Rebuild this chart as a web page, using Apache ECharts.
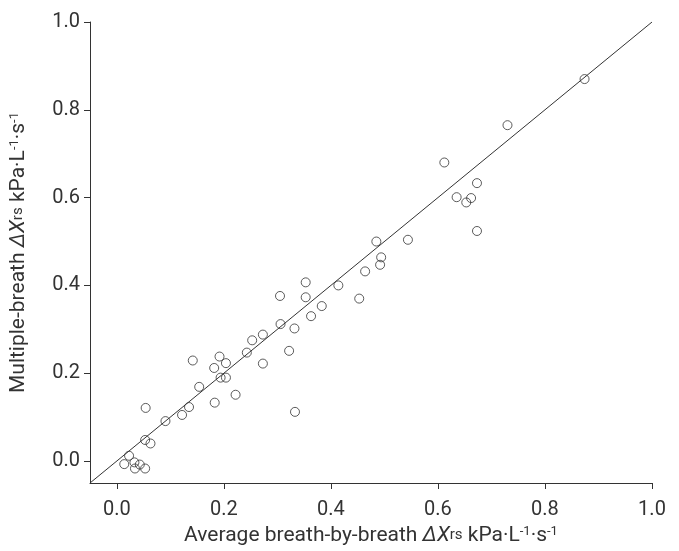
<!DOCTYPE html>
<html>
<head>
<meta charset="utf-8">
<script src="https://cdn.jsdelivr.net/npm/echarts@6/dist/echarts.min.js"></script>
<style>html,body{margin:0;padding:0;background:#fff}#c{width:679px;height:551px}</style>
</head>
<body>
<div id="c"></div>
<script>
// Average breath-by-breath ΔXrs (x) vs multiple-breath ΔXrs (y)
var avgBreath = [0.054,0.154,0.194,0.204,0.222,0.183,0.135,0.122,0.091,0.053,0.063,0.023,0.014,0.033,0.043,0.034,0.053,
  0.464,0.353,0.414,0.305,0.353,0.453,0.383,0.363,0.306,0.332,0.273,0.253,0.243,0.322,0.273,0.192,0.142,0.182,0.204,0.333,
  0.612,0.673,0.635,0.662,0.653,0.673,0.485,0.544,0.494,0.492,0.874,0.730];
var multiBreath = [0.121,0.169,0.190,0.190,0.151,0.133,0.123,0.105,0.091,0.048,0.040,0.012,-0.007,-0.003,-0.008,-0.017,-0.017,
  0.432,0.407,0.400,0.376,0.373,0.370,0.353,0.330,0.312,0.302,0.288,0.275,0.247,0.251,0.222,0.238,0.229,0.212,0.223,0.112,
  0.680,0.633,0.601,0.599,0.589,0.524,0.500,0.504,0.464,0.447,0.870,0.765];
var identityLine = [-0.05, 1.0];
var tickValues = [0, 0.2, 0.4, 0.6, 0.8, 1.0];
var axisMin = -0.05, axisMax = 1.0;

var points = avgBreath.map(function (x, i) { return [x, multiBreath[i]]; });
var lineData = identityLine.map(function (v) { return [v, v]; });

var FONT = 'Roboto';
var TXT = '#333333';
var FS = 20, NFS = 21;
var rich = {
  n: { fontFamily: FONT, fontSize: NFS, color: TXT },
  i: { fontFamily: FONT, fontSize: NFS, color: TXT, fontStyle: 'italic' },
  s: { fontFamily: FONT, fontSize: 15, color: TXT },
  p: { fontFamily: FONT, fontSize: 13, color: TXT, verticalAlign: 'top' }
};
function fmt(v) { return v.toFixed(1); }

var chart = echarts.init(document.getElementById('c'), null, { renderer: 'canvas' });
chart.setOption({
  animation: false,
  backgroundColor: '#ffffff',
  grid: { left: 90, right: 27, top: 22, bottom: 63, containLabel: false },
  xAxis: {
    type: 'value', min: axisMin, max: axisMax,
    name: '{n|Average breath-by-breath }{i|ΔX}{s|rs}{n| kPa·L}{p|-1}{n|·s}{p|-1}',
    nameLocation: 'middle', nameGap: 42,
    nameTextStyle: { rich: rich },
    axisLine: { show: true, onZero: false, lineStyle: { color: '#333', width: 1 } },
    axisTick: { show: true, inside: false, length: 6, customValues: tickValues, lineStyle: { color: '#333' } },
    axisLabel: { customValues: tickValues, formatter: fmt, fontFamily: FONT, fontSize: FS, color: TXT, margin: 17 },
    splitLine: { show: false }
  },
  yAxis: {
    type: 'value', min: axisMin, max: axisMax,
    name: '{n|Multiple-breath }{i|ΔX}{s|rs}{n| kPa·L}{p|-1}{n|·s}{p|-1}',
    nameLocation: 'middle', nameGap: 61, nameRotate: 90,
    nameTextStyle: { rich: rich },
    axisLine: { show: true, onZero: false, lineStyle: { color: '#333', width: 1 } },
    axisTick: { show: true, inside: false, length: 6, customValues: tickValues, lineStyle: { color: '#333' } },
    axisLabel: { customValues: tickValues, formatter: fmt, fontFamily: FONT, fontSize: FS, color: TXT, margin: 10 },
    splitLine: { show: false }
  },
  series: [
    {
      type: 'line', data: lineData, symbol: 'none', silent: true, z: 1,
      lineStyle: { color: '#333', width: 1 }
    },
    {
      type: 'scatter', data: points, symbol: 'circle', symbolSize: 9, z: 2,
      itemStyle: { color: 'rgba(0,0,0,0)', borderColor: '#333', borderWidth: 1 }
    }
  ]
});
</script>
</body>
</html>
